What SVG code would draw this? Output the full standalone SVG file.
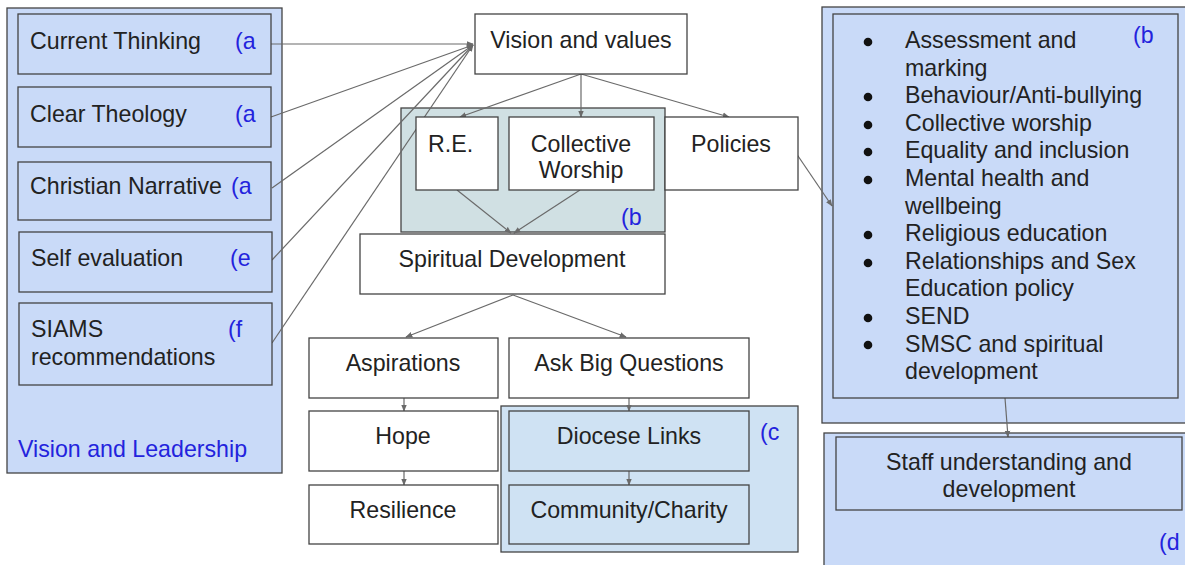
<svg xmlns="http://www.w3.org/2000/svg" width="1185" height="565" viewBox="0 0 1185 565">
<style>
text{font-family:"Liberation Sans",Arial,sans-serif;font-size:23.2px;fill:#222}
.c{text-anchor:middle}
.tag{fill:#2323dd}
.box{stroke:#444;stroke-width:1.3}
.w{fill:#fff}
.lb{fill:#c9daf8}
.tl{fill:#d0e0e3}
.pb{fill:#cfe2f3}
.con{stroke:#6a6a6a;stroke-width:1.2;fill:none;marker-end:url(#ah)}
</style>
<defs>
<marker id="ah" viewBox="0 0 10 10" refX="9" refY="5" markerWidth="7" markerHeight="7" markerUnits="userSpaceOnUse" orient="auto">
<path d="M0,1 L10,5 L0,9 z" fill="#6a6a6a"/>
</marker>
</defs>
<rect width="1185" height="565" fill="#fff"/>

<g id="panel-leadership">
<rect class="box lb" x="7" y="8" width="275" height="465"/>
<text class="tag" x="18" y="457">Vision and Leadership</text>
</g>
<g id="panel-b-re">
<rect class="box tl" x="401" y="108" width="264" height="124"/>
<text class="tag" x="621" y="225">(b</text>
</g>
<g id="panel-c">
<rect class="box pb" x="501" y="406" width="297" height="146"/>
<text class="tag" x="760" y="440">(c</text>
</g>
<g id="panel-policies">
<rect class="box lb" x="822" y="7" width="370" height="416"/>
</g>
<g id="panel-d">
<rect class="box lb" x="824" y="433" width="370" height="140"/>
<text class="tag" x="1159" y="550">(d</text>
</g>

<g id="connectors">
<path class="con" d="M271,44 L473,44"/>
<path class="con" d="M271,117 L473,45"/>
<path class="con" d="M272,188 L473,45"/>
<path class="con" d="M272,260 L473,45"/>
<path class="con" d="M272,343 L473,45"/>
<path class="con" d="M581,74 L460,117"/>
<path class="con" d="M581,74 L581,117"/>
<path class="con" d="M581,74 L729,117"/>
<path class="con" d="M457,190 L511,233"/>
<path class="con" d="M580,190 L514,233"/>
<path class="con" d="M796,153 L832,206"/>
<path class="con" d="M513,295 L406,337"/>
<path class="con" d="M513,295 L626,337"/>
<path class="con" d="M404,398 L404,411"/>
<path class="con" d="M404,471 L404,485"/>
<path class="con" d="M629,398 L629,411"/>
<path class="con" d="M629,471 L629,485"/>
<path class="con" d="M1005,398 L1008,437"/>
</g>

<g id="current-thinking">
<rect class="box lb" x="18" y="14" width="253" height="60"/>
<text x="30" y="49">Current Thinking</text>
<text class="tag" x="235" y="49">(a</text>
</g>
<g id="clear-theology">
<rect class="box lb" x="18" y="87" width="253" height="60"/>
<text x="30" y="122">Clear Theology</text>
<text class="tag" x="235" y="122">(a</text>
</g>
<g id="christian-narrative">
<rect class="box lb" x="18" y="162" width="253" height="58"/>
<text x="30" y="194">Christian Narrative</text>
<text class="tag" x="231" y="194">(a</text>
</g>
<g id="self-evaluation">
<rect class="box lb" x="19" y="232" width="253" height="60"/>
<text x="31" y="266">Self evaluation</text>
<text class="tag" x="230" y="266">(e</text>
</g>
<g id="siams">
<rect class="box lb" x="19" y="303" width="253" height="82"/>
<text x="31" y="337">SIAMS</text>
<text x="31" y="365">recommendations</text>
<text class="tag" x="228" y="337">(f</text>
</g>

<g id="vision-values">
<rect class="box w" x="475" y="14" width="212" height="60"/>
<text class="c" x="581" y="48">Vision and values</text>
</g>
<g id="re">
<rect class="box w" x="416" y="117" width="82" height="73"/>
<text x="428" y="152">R.E.</text>
</g>
<g id="collective-worship">
<rect class="box w" x="509" y="117" width="145" height="73"/>
<text class="c" x="581" y="152">Collective</text>
<text class="c" x="581" y="178">Worship</text>
</g>
<g id="policies">
<rect class="box w" x="665" y="117" width="133" height="73"/>
<text class="c" x="731" y="152">Policies</text>
</g>
<g id="spiritual-development">
<rect class="box w" x="360" y="234" width="305" height="60"/>
<text class="c" x="512" y="267">Spiritual Development</text>
</g>
<g id="aspirations">
<rect class="box w" x="309" y="338" width="189" height="60"/>
<text class="c" x="403" y="371">Aspirations</text>
</g>
<g id="ask-big-questions">
<rect class="box w" x="509" y="338" width="240" height="60"/>
<text class="c" x="629" y="371">Ask Big Questions</text>
</g>
<g id="hope">
<rect class="box w" x="309" y="411" width="189" height="60"/>
<text class="c" x="403" y="444">Hope</text>
</g>
<g id="resilience">
<rect class="box w" x="309" y="485" width="189" height="59"/>
<text class="c" x="403" y="518">Resilience</text>
</g>
<g id="diocese-links">
<rect class="box pb" x="509" y="411" width="240" height="60"/>
<text class="c" x="629" y="444">Diocese Links</text>
</g>
<g id="community-charity">
<rect class="box pb" x="509" y="485" width="240" height="59"/>
<text class="c" x="629" y="518">Community/Charity</text>
</g>

<g id="policy-list">
<rect class="box lb" x="833" y="14" width="345" height="384"/>
<text class="tag" x="1133" y="43">(b</text>
<g fill="#111">
<circle cx="868" cy="42" r="4.3"/>
<circle cx="868" cy="97" r="4.3"/>
<circle cx="868" cy="125" r="4.3"/>
<circle cx="868" cy="152" r="4.3"/>
<circle cx="868" cy="180" r="4.3"/>
<circle cx="868" cy="235" r="4.3"/>
<circle cx="868" cy="263" r="4.3"/>
<circle cx="868" cy="318" r="4.3"/>
<circle cx="868" cy="345" r="4.3"/>
</g>
<text x="905" y="48">Assessment and</text>
<text x="905" y="75.6">marking</text>
<text x="905" y="103.2">Behaviour/Anti-bullying</text>
<text x="905" y="130.8">Collective worship</text>
<text x="905" y="158.4">Equality and inclusion</text>
<text x="905" y="186">Mental health and</text>
<text x="905" y="213.6">wellbeing</text>
<text x="905" y="241.2">Religious education</text>
<text x="905" y="268.8">Relationships and Sex</text>
<text x="905" y="296.4">Education policy</text>
<text x="905" y="324">SEND</text>
<text x="905" y="351.6">SMSC and spiritual</text>
<text x="905" y="379.2">development</text>
</g>
<g id="staff-understanding">
<rect class="box lb" x="836" y="437" width="346" height="73"/>
<text class="c" x="1009" y="470">Staff understanding and</text>
<text class="c" x="1009" y="497">development</text>
</g>
</svg>
